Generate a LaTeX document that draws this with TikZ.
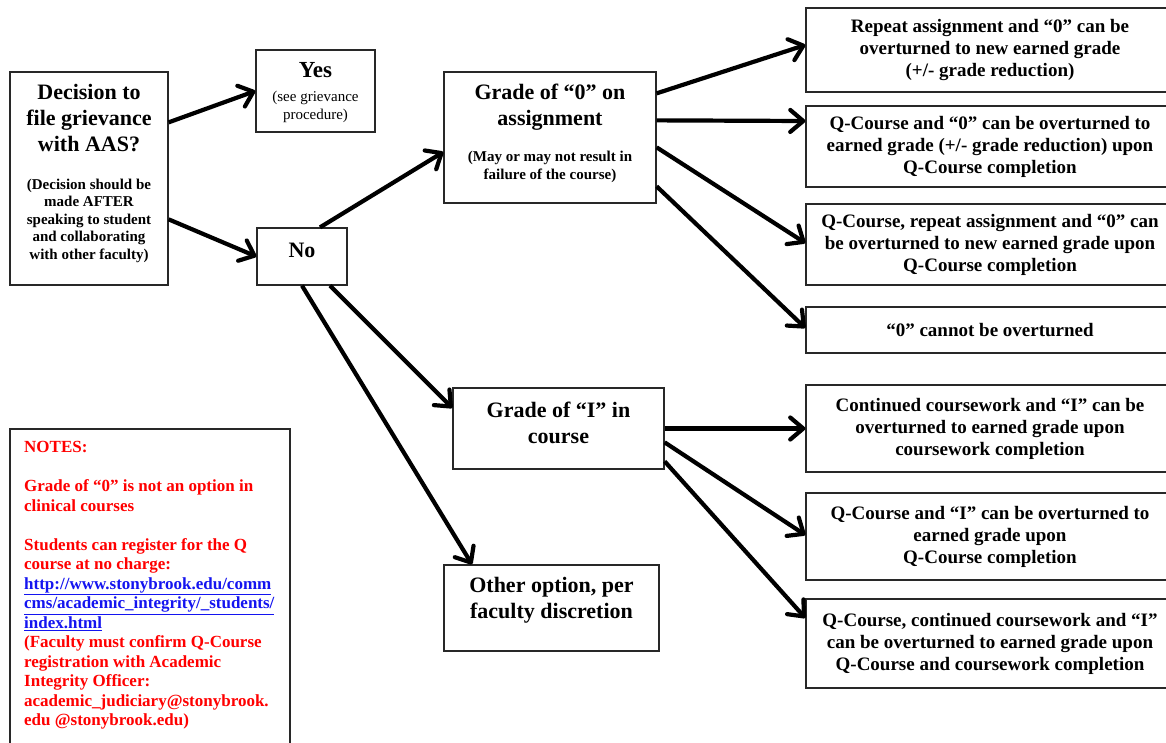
\documentclass[tikz,border=0pt]{standalone}
\usepackage{fontspec}
\setmainfont{Liberation Serif}
\usetikzlibrary{arrows.meta}
\definecolor{notered}{RGB}{255,0,0}
\definecolor{linkblue}{RGB}{20,20,240}
\definecolor{boxline}{RGB}{40,40,40}
\begin{document}
\begin{tikzpicture}[x=1pt,y=-1pt,
  box/.style={draw=boxline,line width=1.3pt,rectangle,inner sep=0pt},
  rbox/.style={box,minimum width=368pt,align=center,font=\fontsize{19}{22}\selectfont\bfseries},
  ttl/.style={align=center,inner sep=0pt,font=\fontsize{22}{26}\selectfont\bfseries},
  sub/.style={align=center,inner sep=0pt,font=\fontsize{15}{17.5}\selectfont\bfseries},
  arr/.style={line width=4.2pt,-{Straight Barb[length=13pt,width=22pt,round]}}]
\useasboundingbox (0,0) rectangle (1166,742);
\clip (0,0) rectangle (1166,742);
\fill[white] (0,0) rectangle (1166,742);

% left boxes
\node[box,minimum width=158pt,minimum height=213pt] (dec) at (89,178.5) {};
\node[ttl] (dect) at (89,118.5) {Decision to\\file grievance\\with AAS?};
\node[sub] (decs) at (89,220.5) {(Decision should be\\made AFTER\\speaking to student\\and collaborating\\with other faculty)};

\node[box,minimum width=119pt,minimum height=82pt] (yes) at (315.5,91) {};
\node[ttl,font=\fontsize{23}{26}\selectfont\bfseries] (yest) at (315.5,70.5) {Yes};
\node[align=center,inner sep=0pt,font=\fontsize{15}{18}\selectfont] (yess) at (315.5,106.5) {(see grievance\\procedure)};

\node[box,minimum width=90pt,minimum height=57pt] (no) at (302,256.5) {};
\node[ttl] (not) at (302,250) {No};

% middle boxes
\node[box,minimum width=212pt,minimum height=131pt] (g0) at (550,137.5) {};
\node[ttl] (g0t) at (550,107) {Grade of “0” on\\assignment};
\node[sub] (g0s) at (550,167) {(May or may not result in\\failure of the course)};

\node[box,minimum width=211pt,minimum height=81pt] (gI) at (558.5,428.5) {};
\node[ttl] (gIt) at (558.5,422.5) {Grade of “I” in\\course};

\node[box,minimum width=215pt,minimum height=86pt] (other) at (551.5,608) {};
\node[ttl] (othert) at (551.5,600.5) {Other option, per\\faculty discretion};

% notes
\node[box,minimum width=280pt,minimum height=351pt] (notes) at (150,604.5) {};
\node[anchor=north west,inner sep=0pt,align=left,text=notered,
      font=\fontsize{17}{19.5}\selectfont\bfseries] (notest) at (24,441.5)
 {NOTES:\\[19.5pt]
  Grade of “0” is not an option in\\
  clinical courses\\[19.5pt]
  Students can register for the Q\\
  course at no charge:\\
  \textcolor{linkblue}{\underline{http://www.stonybrook.edu/comm}}\\
  \textcolor{linkblue}{\underline{cms/academic\_integrity/\_students/}}\\
  \textcolor{linkblue}{\underline{index.html}}\\
  (Faculty must confirm Q-Course\\
  registration with Academic\\
  Integrity Officer:\\
  academic\_judiciary@stonybrook.\\
  edu @stonybrook.edu)};

% right boxes
\node[rbox,minimum height=84pt] (r1) at (990,50) {Repeat assignment and “0” can be\\overturned to new earned grade\\(+/- grade reduction)};
\node[rbox,minimum height=81pt] (r2) at (990,146.5) {Q-Course and “0” can be overturned to\\earned grade (+/- grade reduction) upon\\Q-Course completion};
\node[rbox,minimum height=81pt] (r3) at (990,244.5) {Q-Course, repeat assignment and “0” can\\be overturned to new earned grade upon\\Q-Course completion};
\node[rbox,minimum height=46pt] (r4) at (990,330) {“0” cannot be overturned};
\node[rbox,minimum height=87pt] (r5) at (990,428.5) {Continued coursework and “I” can be\\overturned to earned grade upon\\coursework completion};
\node[rbox,minimum height=87pt] (r6) at (990,536.5) {Q-Course and “I” can be overturned to\\earned grade upon\\Q-Course completion};
\node[rbox,minimum height=89pt] (r7) at (990,643.5) {Q-Course, continued coursework and “I”\\can be overturned to earned grade upon\\Q-Course and coursework completion};

% connectors
\draw[arr] ([yshift=-51pt]dec.north east) -- (yes.west);
\draw[arr] ([yshift=-148pt]dec.north east) -- (no.west);
\draw[arr] ([xshift=18pt]no.north) -- ([yshift=-14.5pt]g0.west);
\draw[arr] ([xshift=28pt]no.south) -- ([yshift=20.5pt]gI.west);
\draw[arr] (no.south) -- ([xshift=-79.5pt]other.north);
\draw[arr] ([yshift=-22pt]g0.north east) -- ([yshift=5pt]r1.west);
\draw[arr] ([yshift=-49pt]g0.north east) -- ([yshift=25.5pt]r2.west);
\draw[arr] ([yshift=-76pt]g0.north east) -- ([yshift=1.5pt]r3.west);
\draw[arr] ([yshift=-115pt]g0.north east) -- ([yshift=2pt]r4.west);
\draw[arr] (gI.east) -- (r5.west);
\draw[arr] ([yshift=-55pt]gI.north east) -- ([yshift=1.5pt]r6.west);
\draw[arr] ([yshift=-74pt]gI.north east) -- ([yshift=25.5pt]r7.west);
\end{tikzpicture}
\end{document}
